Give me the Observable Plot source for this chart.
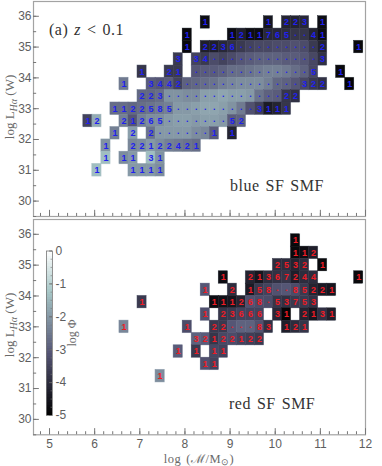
<!DOCTYPE html>
<html><head><meta charset="utf-8">
<script src="https://cdn.jsdelivr.net/npm/d3@7"></script>
<script src="https://cdn.jsdelivr.net/npm/@observablehq/plot@0.6"></script>
<style>
html,body{margin:0;padding:0;background:#fff;width:382px;height:466px;overflow:hidden}
#wrap{position:relative;width:382px;height:466px}
#wrap>svg{position:absolute;overflow:visible;background:none}
</style></head><body><div id="wrap"></div>
<script>
// each entry: [log mass bin centre, galaxy count label, log Phi]
const blue358=[[8.45,"1",-4.7],[9.85,"1",-4.5],[10.25,"2",-4.2],[10.45,"2",-4.2],[10.65,"3",-4.1],[11.05,"1",-4.7]];
const blue354=[[8.05,"1",-4.8],[9.05,"1",-4.7],[9.25,"2",-4.3],[9.45,"1",-4.7],[9.65,"1",-4.7],[9.85,"7",-4.1],[10.05,"6",-4.1],[10.25,"5",-4.0],[10.45,".",-3.8],[10.65,".",-3.8],[10.85,"4",-4.2],[11.05,"1",-4.7]];
const blue350=[[8.05,"1",-4.8],[8.45,"2",-4.3],[8.65,"2",-4.3],[8.85,"3",-4.1],[9.05,"6",-3.9],[9.25,".",-3.7],[9.45,".",-3.5],[9.65,".",-3.4],[9.85,".",-3.4],[10.05,".",-3.3],[10.25,".",-3.3],[10.45,".",-3.2],[10.65,".",-3.3],[10.85,".",-3.7],[11.05,"2",-4.2],[11.85,"1",-4.8]];
const blue346=[[7.85,"3",-3.7],[8.25,"3",-3.5],[8.45,"4",-3.7],[8.65,".",-3.3],[8.85,".",-3.5],[9.05,".",-3.3],[9.25,".",-3.1],[9.45,".",-3.0],[9.65,".",-2.9],[9.85,".",-2.9],[10.05,".",-2.9],[10.25,".",-3.0],[10.45,".",-3.0],[10.65,".",-3.1],[10.85,".",-3.4],[11.05,"3",-3.9]];
const blue342=[[7.05,"1",-3.8],[7.65,"2",-3.7],[7.85,"1",-3.7],[8.25,".",-3.1],[8.45,".",-3.0],[8.65,".",-3.0],[8.85,".",-2.9],[9.05,".",-2.7],[9.25,".",-2.7],[9.45,".",-2.6],[9.65,".",-2.5],[9.85,".",-2.4],[10.05,".",-2.4],[10.25,".",-2.5],[10.45,".",-2.7],[10.65,".",-2.9],[10.85,"5",-3.4],[11.45,"1",-4.8]];
const blue338=[[6.65,"1",-2.5],[7.25,"3",-3.0],[7.45,"4",-3.1],[7.65,"4",-3.0],[7.85,"2",-3.5],[8.05,".",-2.9],[8.25,".",-2.8],[8.45,".",-2.7],[8.65,".",-2.6],[8.85,".",-2.4],[9.05,".",-2.3],[9.25,".",-2.2],[9.45,".",-2.2],[9.65,".",-2.2],[9.85,".",-2.4],[10.05,".",-2.8],[10.25,".",-2.9],[10.45,".",-3.1],[10.65,"3",-3.4],[10.85,"2",-3.7],[11.05,"2",-3.9],[11.65,"1",-4.9]];
const blue334=[[7.05,"2",-2.8],[7.25,"2",-2.8],[7.45,"3",-2.7],[7.65,".",-2.1],[7.85,".",-2.1],[8.05,".",-2.2],[8.25,".",-2.2],[8.45,".",-1.9],[8.65,".",-1.9],[8.85,".",-1.8],[9.05,".",-1.9],[9.25,".",-1.9],[9.45,".",-2.0],[9.65,".",-2.6],[9.85,".",-2.9],[10.05,".",-3.0],[10.25,"2",-3.8],[10.45,"2",-3.9]];
const blue330=[[6.45,"1",-2.7],[6.65,"1",-2.7],[6.85,"2",-2.8],[7.05,"2",-2.7],[7.25,"5",-2.6],[7.45,"8",-2.5],[7.65,"5",-2.4],[7.85,".",-2.0],[8.05,".",-2.0],[8.25,".",-1.9],[8.45,".",-1.8],[8.65,".",-1.8],[8.85,".",-1.9],[9.05,".",-2.1],[9.25,".",-2.5],[9.45,".",-3.2],[9.65,"3",-3.6],[9.85,"1",-4.4],[10.05,"1",-4.2],[10.25,"1",-3.8]];
const blue326=[[5.85,"1",-3.5],[6.05,"2",-1.7],[6.65,"2",-2.4],[6.85,"1",-3.1],[7.05,"2",-2.4],[7.25,"6",-2.2],[7.45,"5",-2.2],[7.65,".",-2.0],[7.85,".",-1.9],[8.05,".",-1.9],[8.25,".",-2.0],[8.45,".",-1.9],[8.65,".",-1.9],[8.85,".",-2.0],[9.05,"5",-3.0],[9.25,"2",-2.9]];
const blue322=[[6.45,"1",-2.4],[6.85,"2",-1.9],[7.25,"2",-2.6],[7.45,".",-2.0],[7.65,".",-2.0],[7.85,".",-2.0],[8.05,".",-2.0],[8.25,".",-2.2],[8.45,".",-2.3],[8.65,"1",-3.0],[9.05,"1",-4.2]];
const blue318=[[6.25,"1",-2.1],[6.85,"2",-2.3],[7.05,"2",-2.2],[7.25,"1",-2.0],[7.45,"2",-2.2],[7.65,"2",-2.4],[7.85,"4",-2.5],[8.05,"2",-2.6],[8.25,"1",-2.7]];
const blue314=[[6.25,"1",-1.4],[6.65,"1",-2.2],[6.85,"1",-2.0],[7.25,"3",-1.4],[7.45,"1",-2.1]];
const blue310=[[6.05,"1",-1.4],[6.85,"1",-2.0],[7.05,"1",-2.0],[7.25,"1",-2.0],[7.45,"1",-2.2]];

const red358=[[10.45,"1",-4.8]];
const red354=[[10.45,"1",-4.8],[10.65,"1",-4.7],[10.85,"2",-4.3]];
const red350=[[10.05,"2",-4.0],[10.25,"5",-4.0],[10.45,"3",-4.2],[10.65,"2",-4.0],[11.05,"1",-4.8]];
const red346=[[8.85,"1",-4.7],[9.45,"2",-4.2],[9.65,"1",-4.5],[9.85,"3",-4.0],[10.05,"6",-3.9],[10.25,"7",-3.8],[10.45,"2",-4.3],[10.65,"4",-4.0],[10.85,"4",-4.0],[11.85,"1",-4.8]];
const red342=[[8.45,"1",-3.1],[9.05,"2",-4.0],[9.45,"1",-4.4],[9.65,"5",-3.7],[9.85,"8",-3.5],[10.05,".",-3.2],[10.25,".",-3.1],[10.45,"8",-3.3],[10.65,"5",-3.7],[10.85,"2",-4.2],[11.05,"2",-4.4],[11.25,"1",-4.5]];
const red338=[[7.05,"1",-3.7],[8.65,"1",-4.7],[8.85,"1",-4.6],[9.05,"1",-4.5],[9.25,"2",-4.2],[9.45,"6",-3.2],[9.65,"8",-3.3],[9.85,".",-3.3],[10.05,"5",-3.8],[10.25,"3",-3.9],[10.45,"7",-3.7],[10.65,"5",-3.7],[10.85,"3",-3.9]];
const red334=[[8.45,"1",-3.2],[8.85,"2",-3.8],[9.05,"3",-3.7],[9.25,"6",-3.5],[9.45,"6",-3.5],[9.65,"6",-3.5],[10.05,"3",-4.1],[10.25,"1",-4.9],[10.65,"2",-4.2],[10.85,"1",-4.5],[11.05,"3",-3.9],[11.25,"1",-4.3]];
const red330=[[6.65,"1",-2.3],[8.05,"1",-3.3],[8.65,"2",-3.7],[8.85,"2",-3.7],[9.05,".",-3.1],[9.25,".",-2.9],[9.45,".",-2.9],[9.65,"8",-3.2],[9.85,"3",-3.9],[10.25,"1",-4.3],[10.45,"2",-4.0],[10.65,"1",-3.8]];
const red326=[[8.25,"3",-2.9],[8.45,"2",-3.0],[8.65,"1",-3.8],[8.85,"2",-3.4],[9.05,"2",-3.3],[9.25,"1",-3.5],[9.45,"2",-3.6],[9.65,"2",-3.7]];
const red322=[[7.85,"1",-3.0],[8.25,"1",-3.7],[8.65,"1",-3.4],[8.85,"1",-3.5]];
const red318=[[8.45,"1",-3.2],[8.65,"1",-3.5]];
const red314=[[7.45,"1",-2.2]];

const rowCentres=[35.8,35.4,35.0,34.6,34.2,33.8,33.4,33.0,32.6,32.2,31.8,31.4,31.0];
const blueRows=[blue358,blue354,blue350,blue346,blue342,blue338,blue334,blue330,blue326,blue322,blue318,blue314,blue310];
const redRows=[red358,red354,red350,red346,red342,red338,red334,red330,red326,red322,red318,red314,[]];
const xMajor=[5,6,7,8,9,10,11,12];
const yMajor=[30,31,32,33,34,35,36];
const xMinor=d3.range(4.8,12.01,0.2).map(v=>+v.toFixed(1));
const yMinor=d3.range(29.5,36.01,0.5);
const phiTicks=[0,-1,-2,-3,-4,-5];
const phiMinor=d3.range(-5,0.01,0.25);
const binW=0.2, binH=0.4;
const xLow=4.645, yLow=29.5;

const table=rows=>rows.flatMap((r,i)=>r.map(([x,n,p])=>({x,y:rowCentres[i],n,p})));
const colorScale={type:"linear",domain:[-5,-3.125,-1.25,0],range:["#000000","#545474","#a7c7c7","#ffffff"],clamp:true};
const grey="#a3a3a3", ink="#5e5e5e", serif="'Liberation Serif',serif", sans="'Liberation Sans',sans-serif";

function panel(rows,textColor,{top,height,marginTop,marginBottom,showX}){
  const data=table(rows);
  const plot=Plot.plot({
    width:382,height,marginLeft:33,marginRight:17,marginTop,marginBottom,
    style:{background:"transparent",fontFamily:sans},
    x:{domain:[xLow,12],axis:null},y:{domain:[yLow,36.48],axis:null},color:colorScale,
    marks:[
      Plot.rect(data,{x1:d=>d.x-binW/2,x2:d=>d.x+binW/2,y1:d=>d.y-binH/2,y2:d=>d.y+binH/2,fill:"#dfe6ea",stroke:"#dfe6ea",strokeWidth:1.2}),
      Plot.rect(data,{x1:d=>d.x-binW/2,x2:d=>d.x+binW/2,y1:d=>d.y-binH/2,y2:d=>d.y+binH/2,fill:"p",stroke:"p",strokeWidth:0.4}),
      Plot.text(data.filter(d=>d.n!=="."),{x:"x",y:"y",text:"n",fill:textColor,fontSize:9,fontWeight:"bold",fontFamily:sans}),
      Plot.text(data.filter(d=>d.n==="."),{x:"x",y:"y",text:"n",fill:textColor,fontSize:9,fontWeight:"bold",fontFamily:sans,dy:-2}),
      Plot.frame({stroke:grey,strokeWidth:1.2}),
      Plot.ruleX(xMajor,{y1:yLow,y2:yLow+0.2,stroke:"#777"}),
      Plot.ruleX(xMinor,{y1:yLow,y2:yLow+0.1,stroke:"#777"}),
      Plot.ruleY(yMajor,{x1:xLow,x2:xLow+0.13,stroke:"#777"}),
      Plot.ruleY(yMinor,{x1:xLow,x2:xLow+0.07,stroke:"#777"}),
      Plot.axisY({ticks:yMajor,tickSize:0,tickPadding:2,tickFormat:d=>String(d),label:null,fontSize:12,fill:ink,fontFamily:sans}),
      ...(showX?[Plot.axisX({ticks:xMajor,tickSize:0,tickPadding:5,tickFormat:d=>String(d),label:null,fontSize:12,fill:ink,fontFamily:sans})]:[])
    ]
  });
  plot.style.left="0px";plot.style.top=top+"px";
  return plot;
}

function addText(svg,x,y,parts,{size=14,fill="#333",anchor="start",rotate=0,family=serif,spacing=0,words=0}={}){
  const t=d3.select(svg).append("text")
    .attr("font-family",family).attr("font-size",size).attr("fill",fill).attr("text-anchor",anchor)
    .attr("letter-spacing",spacing).attr("word-spacing",words)
    .attr("transform",`translate(${x},${y}) rotate(${rotate})`);
  for(const p of parts){
    const s=t.append("tspan").text(p.t);
    if(p.i) s.attr("font-style","italic");
    if(p.dy) s.attr("dy",p.dy);
    if(p.s) s.attr("font-size",p.s);
  }
}

const wrap=document.getElementById("wrap");
const topPlot=panel(blueRows,"#2020f0",{top:0,height:217,marginTop:1,marginBottom:1,showX:false});
const botPlot=panel(redRows,"#ee1c25",{top:217,height:249,marginTop:2,marginBottom:31.7,showX:true});
wrap.append(topPlot,botPlot);

const yTitle=[{t:"log L"},{t:"Hα",i:true,dy:3,s:10},{t:" (W)",dy:-3}];
addText(topPlot,14,107,yTitle,{size:13,fill:"#6a6a6a",anchor:"middle",rotate:-90});
addText(botPlot,14,108,yTitle,{size:13,fill:"#6a6a6a",anchor:"middle",rotate:-90});
const label={size:16,fill:"#333",spacing:0.5,words:1.5};
addText(topPlot,49,35,[{t:"(a) "},{t:"z",i:true},{t:" < 0.1"}],label);
addText(topPlot,230,191,[{t:"blue SF SMF"}],label);
addText(botPlot,229,192,[{t:"red SF SMF"}],label);
addText(botPlot,199,246,[{t:"log ("},{t:"ℳ"},{t:"/M"},{t:"⊙",dy:2,s:9},{t:")",dy:-2}],{size:12.5,fill:"#6a6a6a",anchor:"middle",spacing:0.5,words:1.5});

// colour bar, an inset drawn through its own y scale
const barLevels=d3.range(-5,0,5/64);
const bar=Plot.plot({
  width:60,height:185,marginLeft:16,marginRight:38,marginTop:10.5,marginBottom:10,
  style:{background:"transparent",fontFamily:sans},
  x:{domain:[0,1],axis:null},y:{domain:[-5,0],axis:null},color:colorScale,
  marks:[
    Plot.rect(barLevels,{x1:0,x2:1,y1:d=>d,y2:d=>d+5/64,fill:d=>d+2.5/64,shapeRendering:"crispEdges"}),
    Plot.ruleY(phiMinor,{x1:0.75,x2:1,stroke:"#777",strokeWidth:.6}),
    Plot.ruleY(phiTicks,{x1:0.5,x2:1,stroke:"#666",strokeWidth:.8}),
    Plot.frame({stroke:"#777",strokeWidth:.8}),
    Plot.axisY({anchor:"right",ticks:phiTicks,tickSize:0,tickPadding:3,tickFormat:d=>String(d),label:null,fontSize:12,fill:ink,fontFamily:sans})
  ]
});
bar.style.left="30px";bar.style.top="240px";
wrap.append(bar);
addText(bar,46,93,[{t:"log Φ"}],{size:12,fill:"#6a6a6a",anchor:"middle",rotate:-90});
</script></body></html>
